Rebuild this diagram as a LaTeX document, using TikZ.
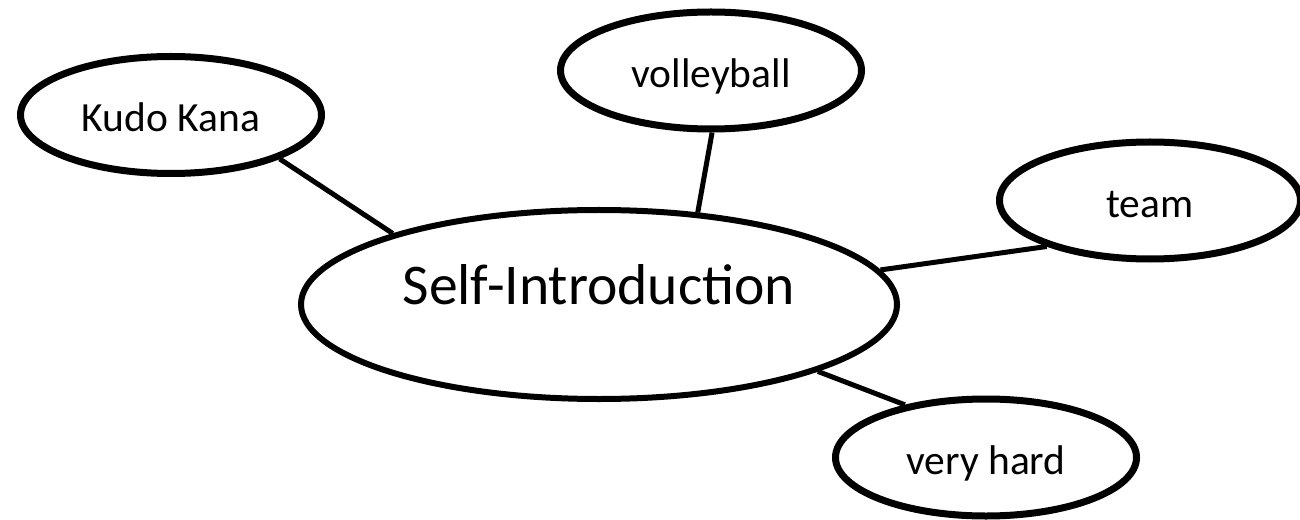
\documentclass[tikz,border=0pt]{standalone}
\usepackage{fontspec}
\setmainfont{Carlito}
\usetikzlibrary{shapes.geometric}
\tikzset{
  smallell/.style={draw=black, line width=7bp, ellipse, inner sep=0pt,
    minimum width=301bp, minimum height=117bp, fill=white,
    text height=40bp, text depth=6bp,
    font=\fontsize{41.5bp}{48bp}\selectfont},
  bigell/.style={draw=black, line width=6bp, ellipse, inner sep=0pt,
    minimum width=596bp, minimum height=189bp,
    text height=20bp, text depth=20bp,
    font=\fontsize{57.6bp}{66bp}\selectfont},
  link/.style={draw=black, line width=5bp}
}
\begin{document}
\begin{tikzpicture}[x=1bp, y=-1bp]
\useasboundingbox (0,0) rectangle (1300,520);
\node[bigell] (self) at (599,304.5) {Self-Introduction};
\node[smallell] (kudo) at (171,115) {Kudo Kana};
\node[smallell] (volley) at (711,70.5) {volleyball};
\node[smallell] (team) at (1150,200.5) {team};
\node[smallell] (hard) at (986,457.5) {very hard};
\draw[link] (kudo.-22.4) -- (self.161.4);
\draw[link] (volley.-89) -- (self.43.3);
\draw[link] (team.-156.2) -- (self.7.7);
\draw[link] (hard.147.1) -- (self.-17.5);
\end{tikzpicture}
\end{document}
